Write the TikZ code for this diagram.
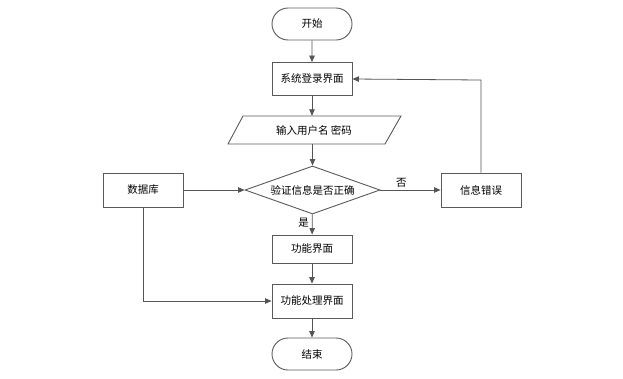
\documentclass[tikz,border=0pt]{standalone}
\usepackage{fontspec}
\setmainfont{Noto Sans CJK SC}
\usetikzlibrary{arrows.meta,shapes.geometric,shapes.misc}
\definecolor{edge}{HTML}{555555}
\definecolor{bord}{HTML}{5A5A5A}
\tikzset{
  base/.style={draw=bord, line width=0.9pt, fill=white, inner sep=0pt, font=\fontsize{10.5}{12}\selectfont, align=center},
  proc/.style={base, rectangle, minimum width=80pt, minimum height=33pt},
  term/.style={base, rounded rectangle, minimum width=80pt, minimum height=32pt},
  dec/.style={base, diamond, aspect=2.8, minimum width=135pt, minimum height=48pt},
  iotext/.style={inner sep=0pt, minimum width=158pt, minimum height=28pt, font=\fontsize{10.5}{12}\selectfont},
  ioline/.style={draw=bord, line width=0.9pt, fill=white},
  flow/.style={draw=edge, line width=0.8pt, -{Triangle[length=6.5pt,width=5.5pt]}},
  lbl/.style={font=\fontsize{10.5}{12}\selectfont, inner sep=1pt}
}
\begin{document}
\begin{tikzpicture}[x=1pt,y=-1pt]
\useasboundingbox (0,0) rectangle (623,378);
\node[term] (start) at (312,24) {开始};
\node[proc] (login) at (312,79) {系统登录界面};
\draw[ioline] (243,116) -- (401,116) -- (385,144) -- (228,144) -- cycle;
\node[iotext] (input) at (314,130) {输入用户名 密码};
\node[dec] (check) at (312.5,190) {验证信息是否正确};
\node[proc, minimum height=34pt] (db) at (143,190) {数据库};
\node[proc, minimum height=34pt] (err) at (481,190) {信息错误};
\node[proc, minimum height=28pt] (func) at (312,249) {功能界面};
\node[proc, minimum height=34pt] (proc) at (312,301) {功能处理界面};
\node[term] (end) at (312,354) {结束};
\coordinate (c1) at (481,80);
\coordinate (c2) at (143,301);

\draw[flow] (start) -- (login);
\draw[flow] (login) -- (login|-input.north);
\draw[flow] (input.south-|check) -- (check);
\draw[flow] (db) -- (check);
\draw[flow] (check) -- node[lbl, pos=0.35, above=1pt] {否} (err);
\draw[flow] (check) -- node[lbl, pos=0.4, left=2pt] {是} (func);
\draw[flow] (err.north) -- (c1) -- (login.east);
\draw[flow] (func) -- (proc);
\draw[flow] (db.south) -- (c2) -- (proc.west);
\draw[flow] (proc) -- (end);
\end{tikzpicture}
\end{document}
